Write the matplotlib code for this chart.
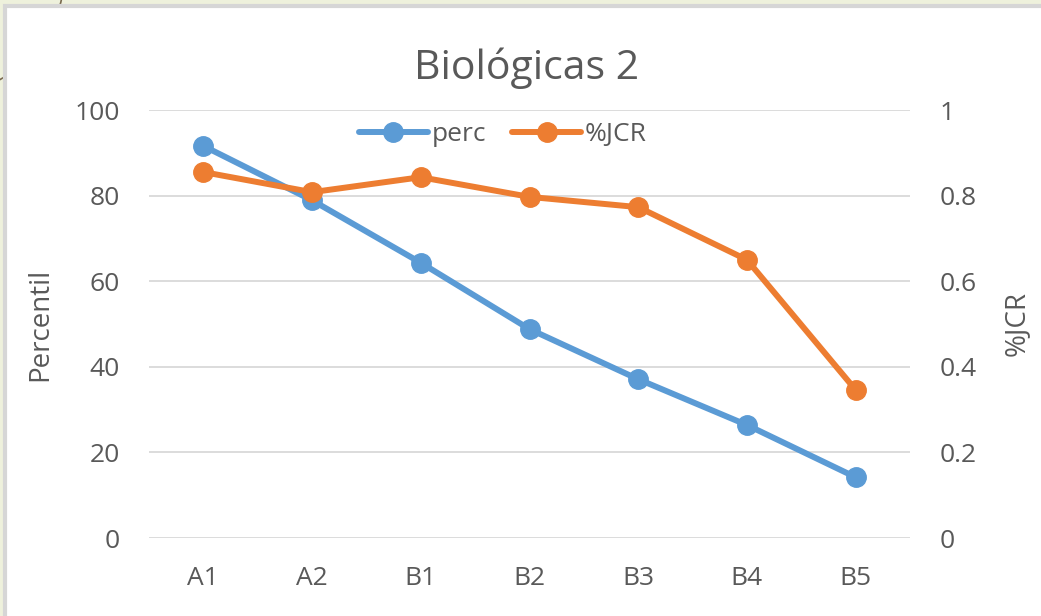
import matplotlib
matplotlib.use('Agg')
import matplotlib.pyplot as plt
from matplotlib.patches import Rectangle, Arc

# datos
categorias = ['A1', 'A2', 'B1', 'B2', 'B3', 'B4', 'B5']
perc = [91.6, 78.9, 64.3, 48.8, 37.1, 26.4, 14.2]
jcr = [0.855, 0.808, 0.843, 0.797, 0.773, 0.650, 0.346]
ticks_izq = [0, 20, 40, 60, 80, 100]
ticks_der = [0, 0.2, 0.4, 0.6, 0.8, 1]
etiquetas_der = ['0', '0.2', '0.4', '0.6', '0.8', '1']

azul = '#5b9bd5'
naranja = '#ed7d31'
gris = '#595959'

plt.rcParams['font.family'] = ['Open Sans', 'DejaVu Sans']

W, H = 1041, 616
fig = plt.figure(figsize=(W / 100, H / 100), dpi=100)
fig.patch.set_facecolor('#eef1dc')

# adorno de la diapositiva (solo se ve en el margen)
fig.patches.append(Arc((-60 / W, 1 + 30 / H), 250 / W, 250 / H,
                       theta1=-90, theta2=10, transform=fig.transFigure,
                       color='#7a6a4f', linewidth=1.2, zorder=-3))
# caja blanca del gráfico
fig.patches.append(Rectangle((5 / W, -0.01), 1.1, 1 - 6 / H + 0.01,
                             transform=fig.transFigure, facecolor='white',
                             edgecolor='#d6d6d6', linewidth=3, zorder=-2))

ax = fig.add_axes([149 / W, 1 - 538 / H, 761 / W, 428 / H])
ax.set_facecolor('none')
x = range(len(categorias))

ax.plot(x, perc, color=azul, linewidth=4.3, marker='o', markersize=14,
        label='perc', zorder=3, solid_capstyle='round')
ax.set_xlim(-0.5, len(categorias) - 0.5)
ax.set_ylim(0, 100)
ax.set_yticks(ticks_izq)
ax.set_xticks(list(x))
ax.set_xticklabels(categorias)
ax.grid(axis='y', color='#d9d9d9', linewidth=1.3)
ax.set_axisbelow(True)
for s in ax.spines.values():
    s.set_visible(False)
ax.tick_params(length=0, labelsize=19, colors=gris, pad=21)
ax.tick_params(axis='x', pad=20)
ax.set_ylabel('Percentil', fontsize=20, color=gris)
ax.yaxis.set_label_coords(-0.124, 0.5)

ax2 = ax.twinx()
ax2.plot(x, jcr, color=naranja, linewidth=4.3, marker='o', markersize=14,
         label='%JCR', zorder=3, solid_capstyle='round')
ax2.set_ylim(0, 1)
ax2.set_yticks(ticks_der)
ax2.set_yticklabels(etiquetas_der)
for s in ax2.spines.values():
    s.set_visible(False)
ax2.tick_params(length=0, labelsize=19, colors=gris, pad=21)
ax2.set_ylabel('%JCR', fontsize=20, color=gris, rotation=90)
ax2.yaxis.set_label_coords(1.122, 0.5)

h1, l1 = ax.get_legend_handles_labels()
h2, l2 = ax2.get_legend_handles_labels()
ax2.legend(h1 + h2, l1 + l2, loc='center', bbox_to_anchor=(0.465, 0.942),
           ncol=2, frameon=False, fontsize=19, labelcolor=gris,
           handlelength=2.6, handletextpad=0.15, columnspacing=1.0,
           borderpad=0, borderaxespad=0)

fig.text(527 / W, 1 - 68 / H, 'Biológicas 2', ha='center', va='center',
         fontsize=29.5, color=gris)

fig.savefig('out.png', dpi=100, facecolor=fig.get_facecolor())
